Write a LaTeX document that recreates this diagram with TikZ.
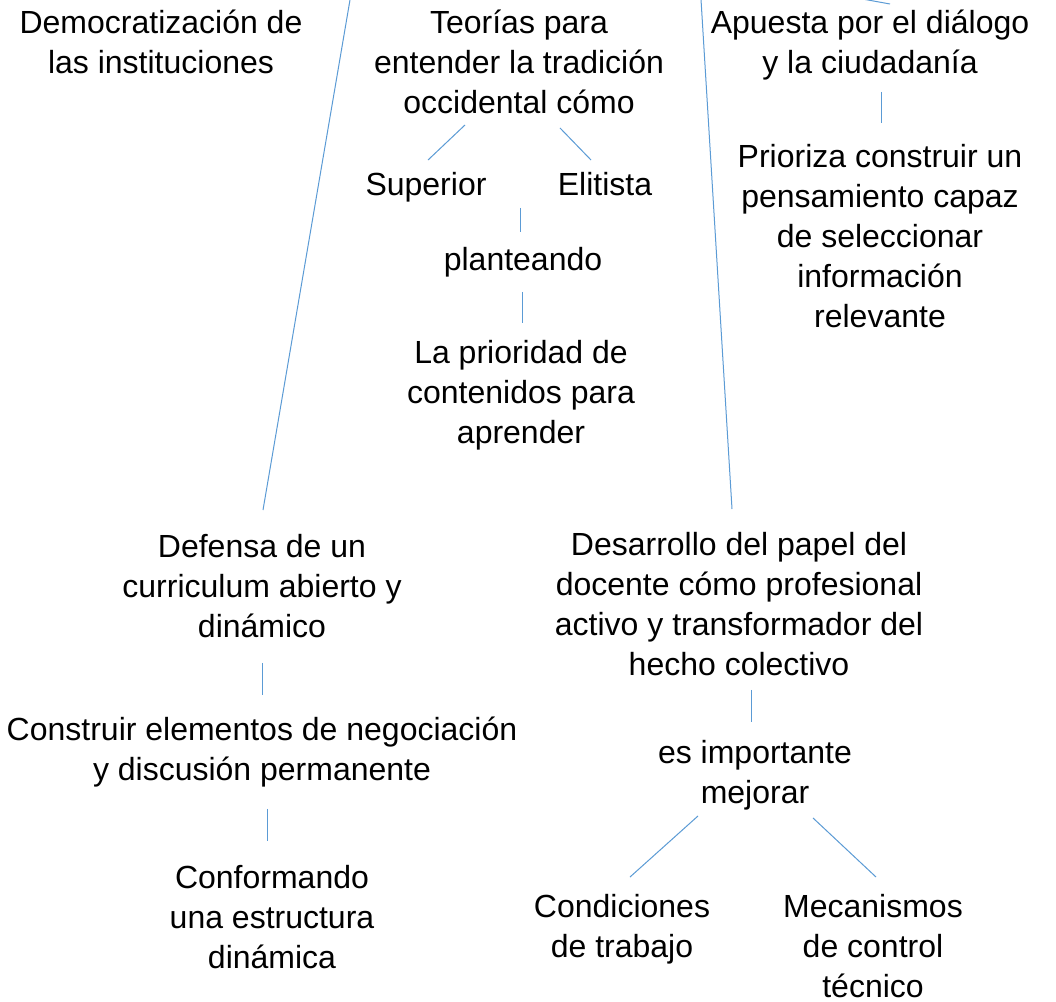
\documentclass[tikz,border=0pt]{standalone}
\usepackage{fontspec}
\setmainfont{Liberation Sans}
\usetikzlibrary{calc}
\definecolor{lineblue}{HTML}{5B9BD5}
\newcommand\ftop{\rule{0pt}{24pt}}
\newcommand\fbot{\rule[-8pt]{0pt}{8pt}}
\tikzset{
  txt/.style={anchor=north, inner sep=0pt, outer sep=0pt, align=center, font=\fontsize{24}{30}\selectfont},
  conn/.style={draw=lineblue, line width=0.75pt}
}
\begin{document}
\begin{tikzpicture}[x=0.75pt,y=-0.75pt]
\useasboundingbox (0,0) rectangle (1056,1001);
\fill[white] (0,0) rectangle (1056,1001);
\clip (0,0) rectangle (1056,1001);

% nodes (x = centre, y = first baseline - 32)
\node[txt] (demo) at (161,1) {\ftop Democratización de\\las instituciones\fbot};
\node[txt] (teorias) at (519,1) {\ftop Teorías para\\entender la tradición\\occidental cómo\fbot};
\node[txt] (superior) at (426,163) {\ftop Superior\fbot};
\node[txt] (elitista) at (605,163) {\ftop Elitista\fbot};
\node[txt] (plant) at (523,238) {\ftop planteando\fbot};
\node[txt] (prior) at (521,331) {\ftop La prioridad de\\contenidos para\\aprender\fbot};
\node[txt] (apuesta) at (870,1) {\ftop Apuesta por el diálogo\\y la ciudadanía\fbot};
\node[txt] (prioriza) at (880,135) {\ftop Prioriza construir un\\pensamiento capaz\\de seleccionar\\información\\relevante\fbot};
\node[txt] (defensa) at (262,525) {\ftop Defensa de un\\curriculum abierto y\\dinámico\fbot};
\node[txt] (construir) at (262,708) {\ftop Construir elementos de negociación\\y discusión permanente\fbot};
\node[txt] (conform) at (272,856) {\ftop Conformando\\una estructura\\dinámica\fbot};
\node[txt] (desarrollo) at (739,523) {\ftop Desarrollo del papel del\\docente cómo profesional\\activo y transformador del\\hecho colectivo\fbot};
\node[txt] (esimp) at (755,731) {\ftop es importante\\mejorar\fbot};
\node[txt] (condic) at (622,885) {\ftop Condiciones\\de trabajo\fbot};
\node[txt] (mecan) at (873,885) {\ftop Mecanismos\\de control\\técnico};

% free ends of connectors coming from outside the picture
\coordinate (offL) at (358.5,-50);
\coordinate (offR) at (698,-50);
\coordinate (offA) at (780,-16);

% connectors
\draw[conn] (offL) -- ([shift={(1,-15)}]defensa.north);
\draw[conn] (offR) -- ([shift={(-7,-14)}]desarrollo.north);
\draw[conn] (offA) -- ([shift={(20,3)}]apuesta.north);
\draw[conn] ([shift={(-54,1.3)}]teorias.south) -- ([shift={(2,-3)}]superior.north);
\draw[conn] ([shift={(41,4.3)}]teorias.south) -- ([shift={(-14,-3)}]elitista.north);
\draw[conn] ($(superior.south)!0.5!(elitista.south)+(4.5,2.3)$) -- ([shift={(-3,-6)}]plant.north);
\draw[conn] ([shift={(-1,11.3)}]plant.south) -- ([shift={(1,-8)}]prior.north);
\draw[conn] ([shift={(11,8.3)}]apuesta.south) -- ([shift={(1,-12)}]prioriza.north);
\draw[conn] ([shift={(0,15.3)}]defensa.south) -- ([shift={(0,-13)}]construir.north);
\draw[conn] ([shift={(5,18.3)}]construir.south) -- ([shift={(-5,-15)}]conform.north);
\draw[conn] ([shift={(12,4.3)}]desarrollo.south) -- ([shift={(-4,-9)}]esimp.north);
\draw[conn] ([shift={(-57,2.3)}]esimp.south) -- ([shift={(8,-8)}]condic.north);
\draw[conn] ([shift={(58,4.3)}]esimp.south) -- ([shift={(3,-8)}]mecan.north);
\end{tikzpicture}
\end{document}
